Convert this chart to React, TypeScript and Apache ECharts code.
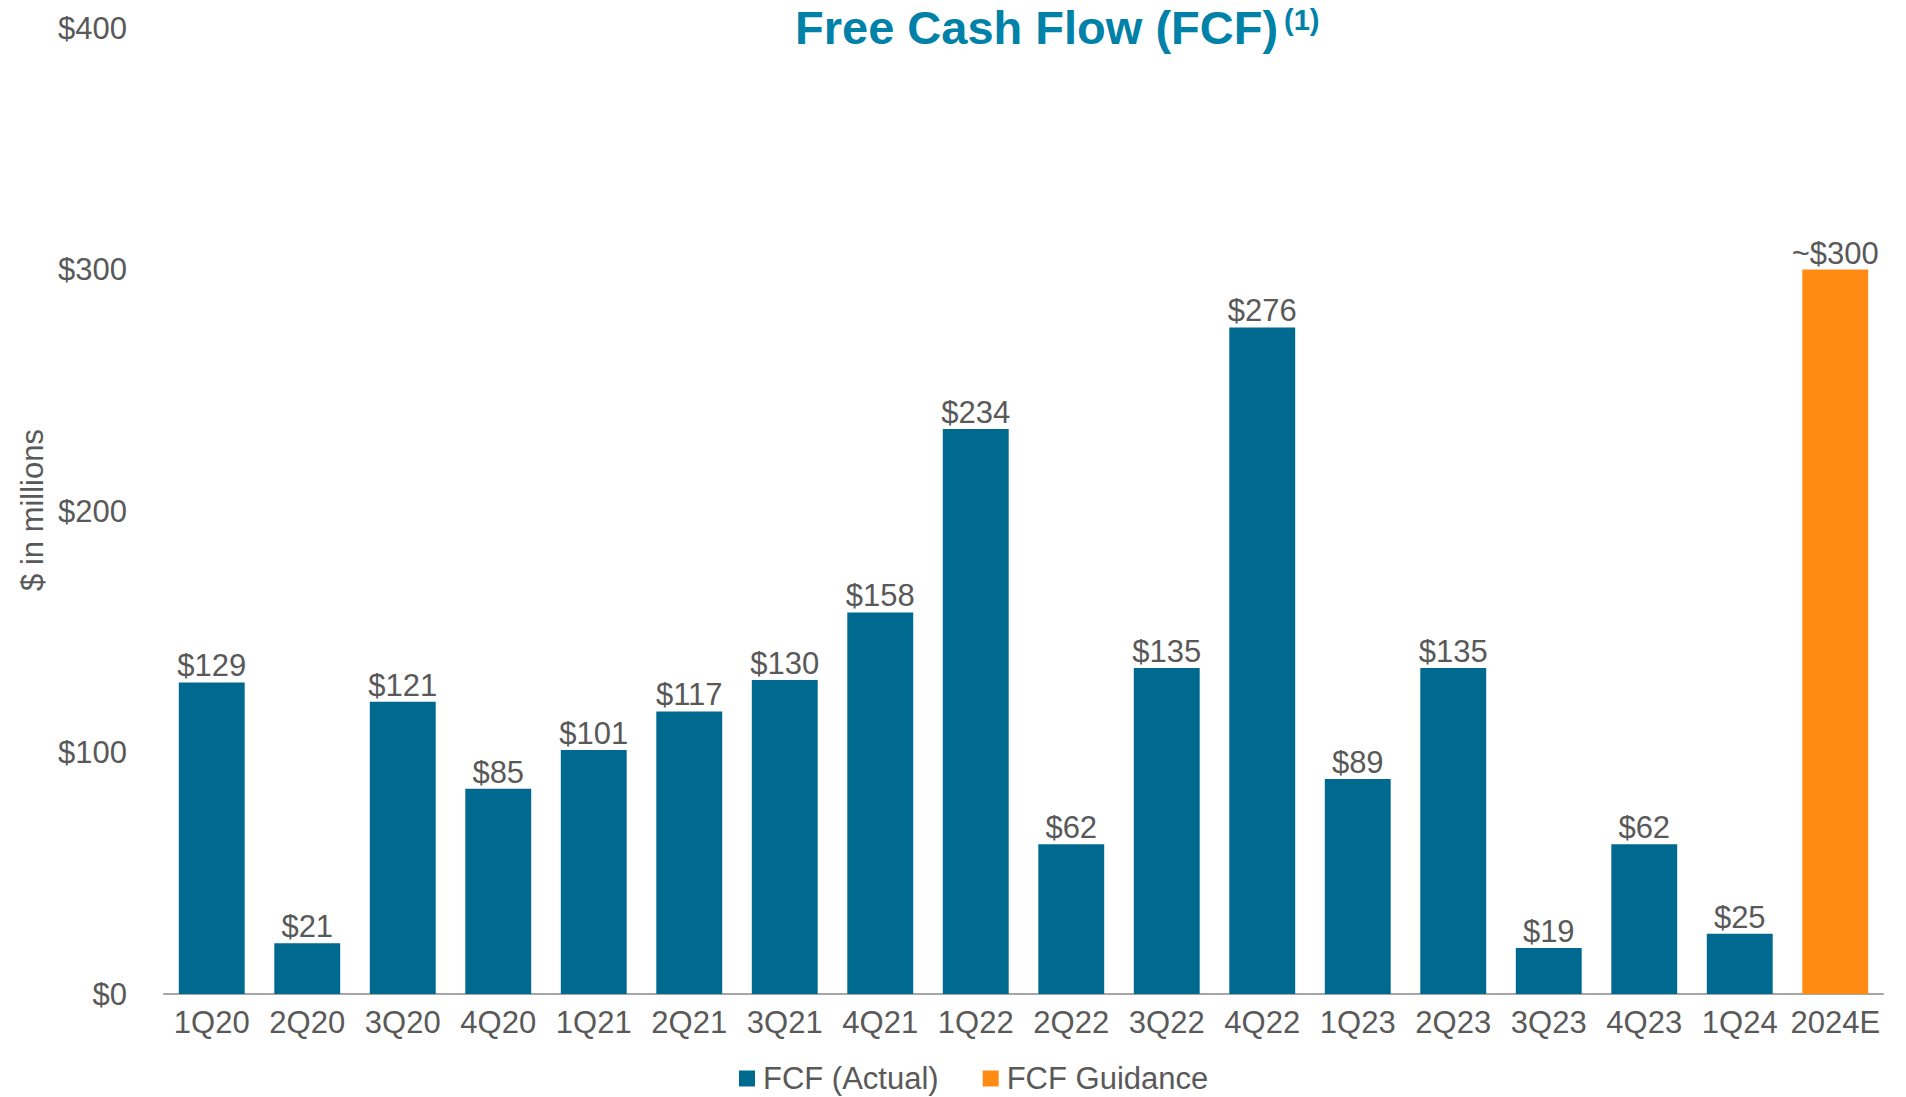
import React, { useEffect, useRef } from "react";
import * as echarts from "echarts";

const categories = ["1Q20","2Q20","3Q20","4Q20","1Q21","2Q21","3Q21","4Q21","1Q22","2Q22","3Q22","4Q22","1Q23","2Q23","3Q23","4Q23","1Q24","2024E"];
const actualValues: (number | null)[] = [129,21,121,85,101,117,130,158,234,62,135,276,89,135,19,62,25,null];
const guidanceValues: (number | null)[] = [null,null,null,null,null,null,null,null,null,null,null,null,null,null,null,null,null,300];
const yTicks = { min: 0, max: 400, interval: 100 };

const BLUE = "#00698F";
const ORANGE = "#FF8A14";
const GREY = "#595959";
const TITLE = "#0082A8";
const FONT = "Liberation Sans, Arial, sans-serif";

export default function App() {
  const ref = useRef<HTMLDivElement>(null);
  useEffect(() => {
    if (!ref.current) return;
    const chart = echarts.init(ref.current, null, { renderer: "svg" });
    chart.setOption({
      animation: false,
      textStyle: { fontFamily: FONT },
      grid: { left: 164, right: 23, top: 28, bottom: 103 },
      legend: {
        data: ["FCF (Actual)", "FCF Guidance"],
        left: 734,
        top: 1058,
        icon: "rect",
        itemWidth: 16,
        itemHeight: 16,
        itemGap: 44,
        textStyle: { color: GREY, fontSize: 31, fontFamily: FONT, padding: [0, 0, 0, 3] },
      },
      xAxis: {
        type: "category",
        data: categories,
        axisLine: { lineStyle: { color: "#A6A6A6", width: 2 } },
        axisTick: { show: false },
        axisLabel: { color: GREY, fontSize: 31, margin: 13, fontFamily: FONT, interval: 0 },
      },
      yAxis: {
        type: "value",
        min: yTicks.min,
        max: yTicks.max,
        interval: yTicks.interval,
        splitLine: { show: false },
        axisLine: { show: false },
        axisTick: { show: false },
        axisLabel: { color: GREY, fontSize: 31, margin: 37, fontFamily: FONT, formatter: (v: number) => "$" + v },
      },
      graphic: [
        {
          type: "text",
          x: 795,
          y: 27,
          style: {
            text: "Free Cash Flow (FCF)",
            fill: TITLE,
            font: "bold 47px " + FONT,
            textAlign: "left",
            textVerticalAlign: "middle",
          },
        },
        {
          type: "text",
          x: 1284,
          y: 20,
          style: {
            text: "(1)",
            fill: TITLE,
            font: "bold 29px " + FONT,
            textAlign: "left",
            textVerticalAlign: "middle",
          },
        },
        {
          type: "text",
          x: 32,
          y: 510,
          rotation: Math.PI / 2,
          style: {
            text: "$ in millions",
            fill: GREY,
            font: "31px " + FONT,
            textAlign: "center",
            textVerticalAlign: "middle",
          },
        },
      ],
      series: [
        {
          name: "FCF (Actual)",
          type: "bar",
          stack: "fcf",
          data: actualValues,
          barCategoryGap: "31%",
          itemStyle: { color: BLUE },
          label: {
            show: true,
            position: "top",
            distance: 1,
            color: GREY,
            fontSize: 31,
            fontFamily: FONT,
            formatter: (p: any) => "$" + p.value,
          },
        },
        {
          name: "FCF Guidance",
          type: "bar",
          stack: "fcf",
          data: guidanceValues,
          barCategoryGap: "31%",
          itemStyle: { color: ORANGE },
          label: {
            show: true,
            position: "top",
            distance: 1,
            color: GREY,
            fontSize: 31,
            fontFamily: FONT,
            formatter: (p: any) => "~$" + p.value,
          },
        },
      ],
    });
    return () => chart.dispose();
  }, []);
  return <div ref={ref} style={{ width: 1906, height: 1097, position: "absolute", left: 0, top: 0 }} />;
}
